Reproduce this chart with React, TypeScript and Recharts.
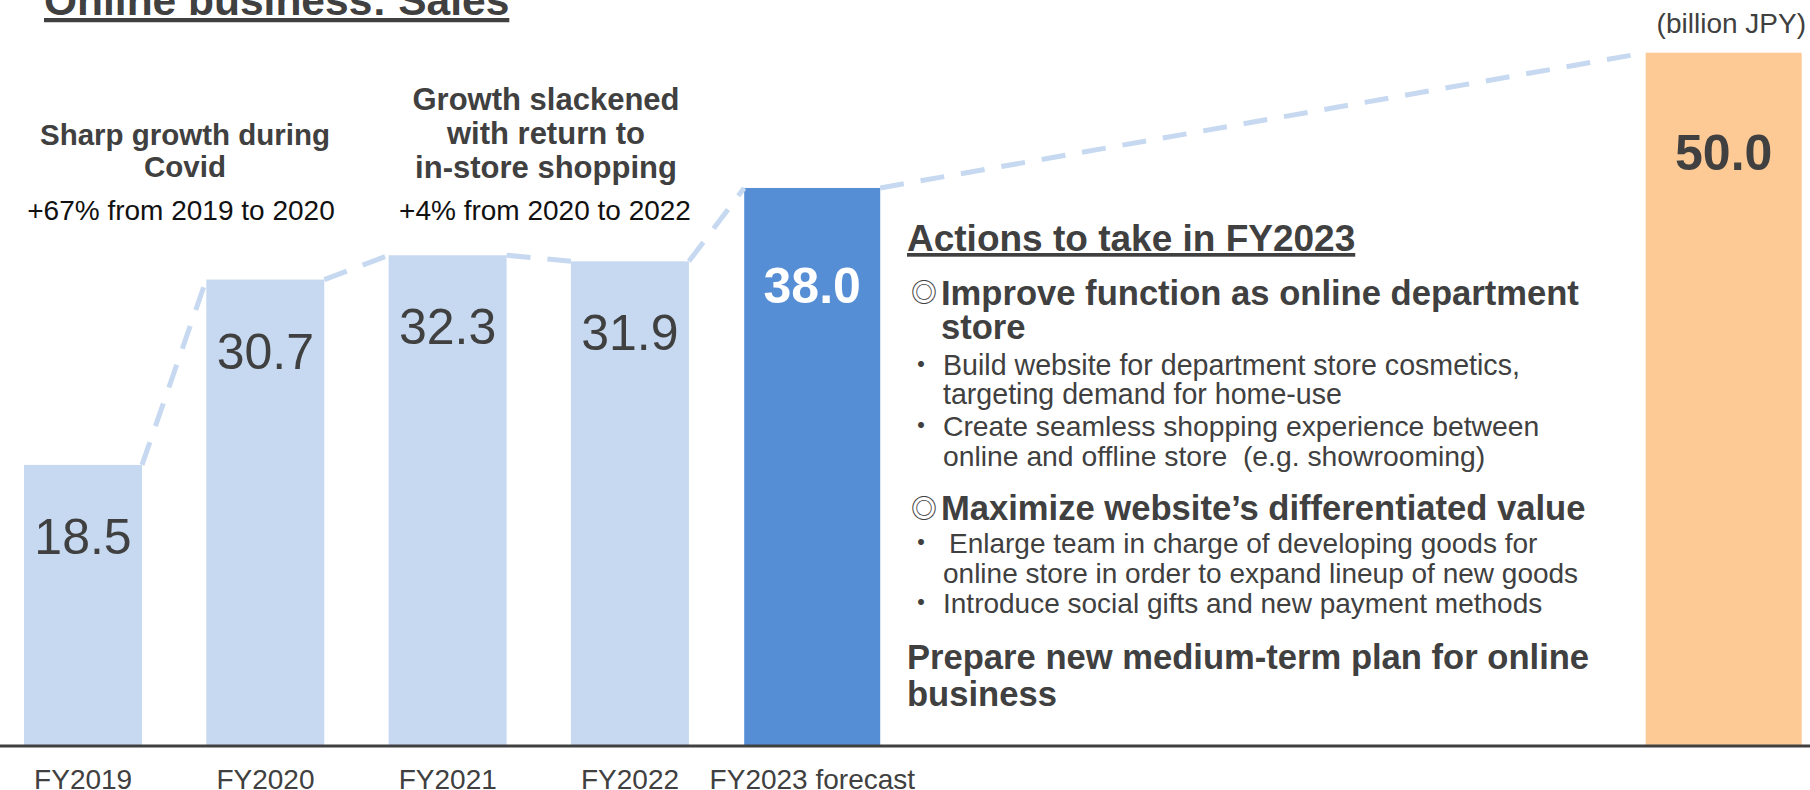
import React from 'react';
import { BarChart, Bar, XAxis, YAxis } from 'recharts';

// sales, billion JPY
const actualYears = ['FY2019', 'FY2020', 'FY2021', 'FY2022'];
const actualSales = [18.5, 30.7, 32.3, 31.9];
const forecastYears = ['FY2023 forecast'];
const forecastSales = [38.0];
const blankSlots = ['', '', '', ''];
const targetYears = [''];
const targetSales = [50.0];

const rows = [
  ...actualYears.map((name, i) => ({ name, actual: actualSales[i] })),
  ...forecastYears.map((name, i) => ({ name, forecast: forecastSales[i] })),
  ...blankSlots.map((name) => ({ name })),
  ...targetYears.map((name, i) => ({ name, target: targetSales[i] })),
];

const LIGHT = '#C6D9F0';
const BLUE = '#558ED5';
const PEACH = '#FDCA96';
const INK = '#404040';
const FONT = '"Liberation Sans", Arial, "Noto Sans CJK JP", sans-serif';
const SYMBOL_FONT = '"Noto Sans CJK JP", "DejaVu Sans", sans-serif';

// bar tops, filled in while the bars draw; the last series uses them for the dashed connectors
const barTops = new Map<string, { left: number; right: number; y: number }>();

const barShape =
  (key: string, fill: string, labelColor: string, bold: boolean, labelDy: number, withLinks = false) =>
  (p: any) => {
    const v = p.payload ? p.payload[key] : null;
    if (v == null || !(p.height > 0)) return <g />;
    barTops.set(`${key}-${p.index}`, { left: p.x, right: p.x + p.width, y: p.y });
    const tops = withLinks ? [...barTops.values()].sort((a, b) => a.left - b.left) : [];
    return (
      <g>
        <rect x={p.x} y={p.y} width={p.width} height={p.height} fill={fill} />
        <text
          x={p.x + p.width / 2}
          y={p.y + labelDy}
          textAnchor="middle"
          fontSize={50}
          fontWeight={bold ? 'bold' : 'normal'}
          fill={labelColor}
          fontFamily={FONT}
        >
          {Number(v).toFixed(1)}
        </text>
        {tops.slice(1).map((t, i) => (
          <line
            key={i}
            x1={tops[i].right}
            y1={tops[i].y}
            x2={t.left}
            y2={t.y}
            stroke={LIGHT}
            strokeWidth={5}
            strokeDasharray="24 17"
          />
        ))}
      </g>
    );
  };

const AxisTick = (p: any) => {
  if (!p.payload || !p.payload.value) return <g />;
  return (
    <text x={p.x} y={p.y + 43} textAnchor="middle" fontSize={28} fill={INK} fontFamily={FONT}>
      {p.payload.value}
    </text>
  );
};

const T = (props: any) => <text fontFamily={FONT} fill={INK} style={{ whiteSpace: 'pre' }} {...props} />;

const Mark = ({ x, y, ch, size }: { x: number; y: number; ch: string; size: number }) => (
  <text x={x} y={y} textAnchor="middle" fontSize={size} fill={INK} fontFamily={SYMBOL_FONT}>
    {ch}
  </text>
);

const Annotations = () => (
  <svg width={1810} height={790} style={{ position: 'absolute', left: 0, top: 0, pointerEvents: 'none' }}>
    <T x={44} y={15} fontSize={42.5} fontWeight="bold" textDecoration="underline">
      Online business: Sales
    </T>
    <T x={1806} y={33} fontSize={28} textAnchor="end">
      (billion JPY)
    </T>

    <T x={185} y={145} fontSize={29.5} fontWeight="bold" textAnchor="middle">Sharp growth during</T>
    <T x={185} y={177} fontSize={29.5} fontWeight="bold" textAnchor="middle">Covid</T>
    <T x={181} y={220} fontSize={28} textAnchor="middle" fill="#111">+67% from 2019 to 2020</T>

    <T x={546} y={110} fontSize={31} fontWeight="bold" textAnchor="middle">Growth slackened</T>
    <T x={546} y={144} fontSize={31} fontWeight="bold" textAnchor="middle">with return to</T>
    <T x={546} y={178} fontSize={31} fontWeight="bold" textAnchor="middle">in-store shopping</T>
    <T x={545} y={220} fontSize={28} textAnchor="middle" fill="#111">+4% from 2020 to 2022</T>

    <T x={907} y={251} fontSize={37} fontWeight="bold" textDecoration="underline">Actions to take in FY2023</T>

    <Mark x={924} y={302} ch="◎" size={26} />
    <T x={941} y={305} fontSize={34.6} fontWeight="bold">Improve function as online department</T>
    <T x={941} y={339} fontSize={34.6} fontWeight="bold">store</T>
    <Mark x={921} y={375} ch="・" size={28} />
    <T x={943} y={375} fontSize={28.6}>Build website for department store cosmetics,</T>
    <T x={943} y={404} fontSize={28.6}>targeting demand for home-use</T>
    <Mark x={921} y={436} ch="・" size={28} />
    <T x={943} y={436} fontSize={28.3}>Create seamless shopping experience between</T>
    <T x={943} y={466} fontSize={28.3}>online and offline store  (e.g. showrooming)</T>

    <Mark x={924} y={518} ch="◎" size={26} />
    <T x={941} y={520} fontSize={34.6} fontWeight="bold">Maximize website’s differentiated value</T>
    <Mark x={921} y={553} ch="・" size={28} />
    <T x={949} y={553} fontSize={28}>Enlarge team in charge of developing goods for</T>
    <T x={943} y={583} fontSize={28}>online store in order to expand lineup of new goods</T>
    <Mark x={921} y={613} ch="・" size={28} />
    <T x={943} y={613} fontSize={28}>Introduce social gifts and new payment methods</T>

    <T x={907} y={669} fontSize={34.6} fontWeight="bold">Prepare new medium-term plan for online</T>
    <T x={907} y={706} fontSize={34.6} fontWeight="bold">business</T>
  </svg>
);

export default function App() {
  return (
    <div
      style={{
        position: 'absolute',
        left: 0,
        top: 0,
        width: 1810,
        height: 790,
        overflow: 'hidden',
        background: '#fff',
        fontFamily: FONT,
      }}
    >
      <div style={{ position: 'absolute', left: -8, top: 0 }}>
        <BarChart width={1823} height={790} data={rows} margin={{ top: 0, right: 0, bottom: 0, left: 0 }}>
          <XAxis
            xAxisId="actual"
            dataKey="name"
            height={44}
            interval={0}
            tickLine={false}
            tickSize={0}
            tickMargin={0}
            axisLine={{ stroke: INK, strokeWidth: 3 }}
            tick={<AxisTick />}
          />
          <XAxis xAxisId="forecast" dataKey="name" hide />
          <XAxis xAxisId="target" dataKey="name" hide />
          <YAxis yAxisId="actual" hide domain={[0, 49.1]} />
          <YAxis yAxisId="forecast" hide domain={[0, 50.8]} />
          <YAxis yAxisId="target" hide domain={[0, 53.8]} />
          <Bar
            xAxisId="actual"
            yAxisId="actual"
            dataKey="actual"
            barSize={118}
            shape={barShape('actual', LIGHT, INK, false, 89)}
            isAnimationActive={false}
          />
          <Bar
            xAxisId="forecast"
            yAxisId="forecast"
            dataKey="forecast"
            barSize={136}
            shape={barShape('forecast', BLUE, '#FFFFFF', true, 115)}
            isAnimationActive={false}
          />
          <Bar
            xAxisId="target"
            yAxisId="target"
            dataKey="target"
            barSize={156}
            shape={barShape('target', PEACH, INK, true, 117, true)}
            isAnimationActive={false}
          />
        </BarChart>
      </div>
      <Annotations />
    </div>
  );
}
